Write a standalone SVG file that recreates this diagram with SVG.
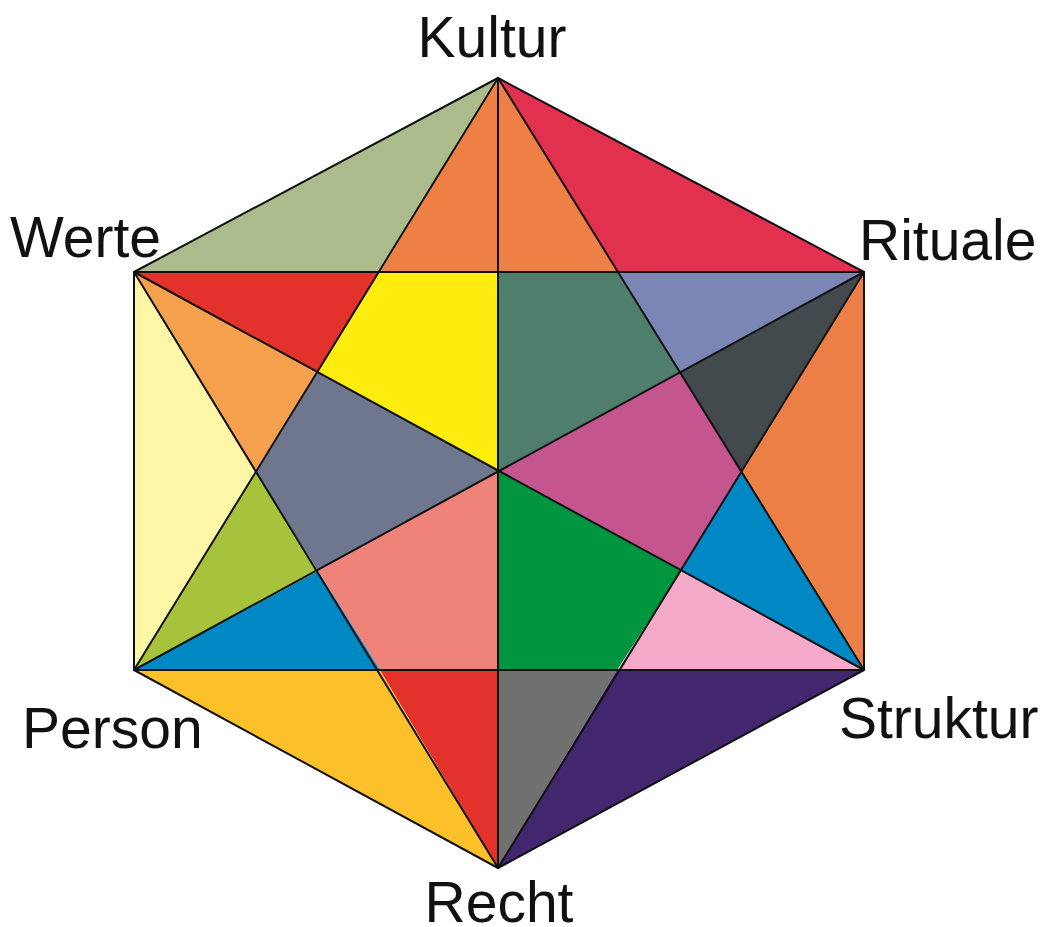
<svg xmlns="http://www.w3.org/2000/svg" width="1049" height="927" viewBox="0 0 1049 927">
<style>
.f{stroke:none}
.l{fill:none;stroke:#111;stroke-width:2;stroke-linejoin:round}
.t{font-family:"Liberation Sans",Arial,sans-serif;font-size:57px;fill:#111}
</style>
<rect width="1049" height="927" fill="#fff"/>
<g id="regions">
<polygon class="f" fill="#abbb8b" points="134,272 498,78 380,272"/>
<polygon class="f" fill="#ee8046" points="498,78 380,272 617,272"/>
<polygon class="f" fill="#e2304f" points="498,78 864,272 617,272"/>
<polygon class="f" fill="#e3312b" points="134,272 380,272 318,372"/>
<polygon class="f" fill="#ffed10" points="380,272 498,272 498,471 318,372"/>
<polygon class="f" fill="#4f7e6c" points="498,272 617,272 680,372 498,471"/>
<polygon class="f" fill="#7b86b5" points="617,272 864,272 680,372"/>
<polygon class="f" fill="#434a4e" points="864,272 680,372 741,472"/>
<polygon class="f" fill="#ec7f45" points="864,272 864,670 741,472"/>
<polygon class="f" fill="#c4558f" points="498,471 680,372 741,472 681,571"/>
<polygon class="f" fill="#0088c4" points="741,472 864,670 681,571"/>
<polygon class="f" fill="#f4a9c9" points="681,571 864,670 617,670"/>
<polygon class="f" fill="#009640" points="498,471 681,571 617,670 498,670"/>
<polygon class="f" fill="#ef8279" points="498,471 498,670 380,670 318,571"/>
<polygon class="f" fill="#0088c4" points="134,670 318,571 380,670"/>
<polygon class="f" fill="#a6c33b" points="134,670 256,472 318,571"/>
<polygon class="f" fill="#fff7a8" points="134,272 134,670 256,472"/>
<polygon class="f" fill="#f5a04c" points="134,272 318,372 256,472"/>
<polygon class="f" fill="#6e778e" points="498,471 318,372 256,472 318,571"/>
<polygon class="f" fill="#fbc02a" points="134,670 498,868 380,670"/>
<polygon class="f" fill="#e3312b" points="380,670 498,670 498,868"/>
<polygon class="f" fill="#707070" points="498,670 617,670 498,868"/>
<polygon class="f" fill="#42266e" points="617,670 864,670 498,868"/>
</g>
<g id="connectors">
<polygon class="l" points="498,78 864,272 864,670 498,868 134,670 134,272"/>
<polygon class="l" points="498,78 134,670 864,670"/>
<polygon class="l" points="134,272 864,272 498,868"/>
<line class="l" x1="498" y1="78" x2="498" y2="868"/>
<line class="l" x1="134" y1="272" x2="864" y2="670"/>
<line class="l" x1="864" y1="272" x2="134" y2="670"/>
</g>
<g id="labels">
<text id="kultur" class="t" x="492" y="57" text-anchor="middle">Kultur</text>
<text id="werte" class="t" x="10" y="257">Werte</text>
<text id="rituale" class="t" x="859" y="260">Rituale</text>
<text id="person" class="t" x="22" y="748">Person</text>
<text id="struktur" class="t" x="839" y="738">Struktur</text>
<text id="recht" class="t" x="499" y="922" text-anchor="middle">Recht</text>
</g>
</svg>
